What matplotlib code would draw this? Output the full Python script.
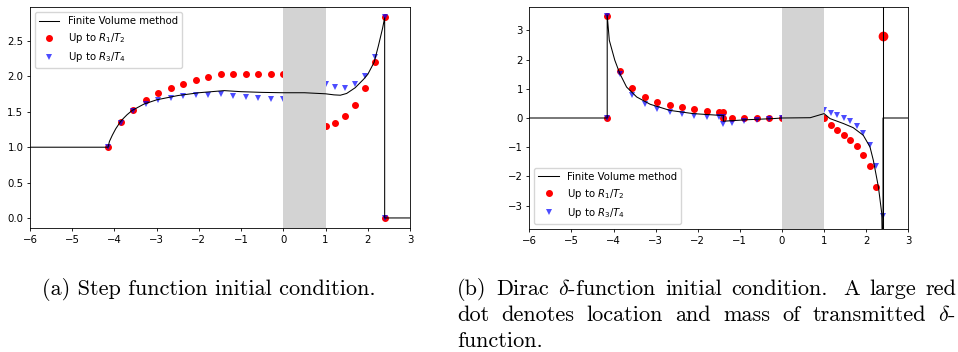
import matplotlib
matplotlib.use('Agg')
import matplotlib.pyplot as plt

W, H = 958, 352

# --- (a) step function initial condition ---
fv_step_x = [-6.0, -4.15, -4.12, -4.05, -3.97, -3.87, -3.8, -3.7, -3.58, -3.3, -3.0, -2.5,
             -2.0, -1.5, -1.4, -1.0, -0.5, 0.0, 0.5, 1.0, 1.2, 1.35, 1.5, 1.7, 1.9, 2.0,
             2.15, 2.25, 2.35, 2.4, 2.4, 3.0]
fv_step_y = [1.0, 1.0, 1.08, 1.17, 1.26, 1.35, 1.40, 1.46, 1.52, 1.61, 1.67, 1.73,
             1.77, 1.795, 1.80, 1.785, 1.775, 1.77, 1.77, 1.755, 1.74, 1.735, 1.76, 1.84, 1.96,
             2.03, 2.2, 2.43, 2.68, 2.83, 0.0, 0.0]

step_pts_x = [-4.15, -3.85, -3.55, -3.26, -2.96, -2.67, -2.37, -2.08, -1.78, -1.48,
              -1.19, -0.89, -0.59, -0.30, 0.0, 1.0, 1.23, 1.47, 1.70, 1.93, 2.17, 2.40, 2.40]
r1_step_y = [1.0, 1.35, 1.53, 1.665, 1.76, 1.84, 1.90, 1.95, 1.99, 2.03,
             2.04, 2.04, 2.04, 2.04, 2.04, 1.30, 1.34, 1.445, 1.60, 1.84, 2.20, 2.84, 0.0]
r3_step_y = [1.0, 1.34, 1.51, 1.61, 1.665, 1.69, 1.717, 1.735, 1.745, 1.75,
             1.726, 1.708, 1.69, 1.68, 1.68, 1.90, 1.85, 1.84, 1.90, 2.01, 2.27, 2.84, 0.0]

# --- (b) Dirac delta initial condition ---
fv_delta_x = [-6.0, -4.15, -4.15, -4.1, -3.97, -3.85, -3.69, -3.45, -3.13, -2.66, -2.11,
              -1.47, -1.39, -1.39, -0.84, -0.2, 0.0, 0.67, 1.0, 1.14, 1.46, 1.69, 1.93,
              2.09, 2.17, 2.29, 2.37, 2.4, 2.4, 3.0]
fv_delta_y = [0.0, 0.0, 3.52, 2.66, 1.98, 1.52, 1.06, 0.72, 0.47, 0.26, 0.15,
              0.09, 0.09, -0.11, -0.06, -0.02, 0.0, 0.01, 0.15, -0.02, -0.19, -0.33, -0.59,
              -0.99, -1.45, -2.36, -3.27, -6.0, 0.0, 0.0]

r1_delta_x = [-4.15, -4.15, -3.85, -3.56, -3.26, -2.97, -2.67, -2.37, -2.08, -1.78, -1.49,
              -1.39, -1.39, -1.19, -0.89, -0.60, -0.30, 0.0, 1.0, 1.156, 1.311, 1.467,
              1.622, 1.778, 1.933, 2.089, 2.244]
r1_delta_y = [0.0, 3.49, 1.61, 1.02, 0.73, 0.56, 0.45, 0.36, 0.30, 0.25, 0.22,
              0.22, 0.0, 0.0, 0.0, 0.0, 0.0, 0.0, 0.0, -0.25, -0.42, -0.58,
              -0.76, -0.97, -1.25, -1.65, -2.35]
r3_delta_x = r1_delta_x + [2.4]
r3_delta_y = [0.0, 3.49, 1.52, 0.80, 0.49, 0.32, 0.21, 0.13, 0.08, 0.05, 0.03,
              0.02, -0.22, -0.17, -0.10, -0.06, -0.03, 0.0, 0.29, 0.17, 0.09, 0.0,
              -0.11, -0.28, -0.51, -0.93, -1.65, -3.36]

# transmitted delta: location and mass
delta_x = 2.4
delta_mass = 2.81

caption_a = "(a) Step function initial condition."
caption_b = [
    ["(b)", "Dirac", r"$\delta$-function", "initial", "condition.", "A", "large", "red"],
    ["dot", "denotes", "location", "and", "mass", "of", "transmitted", r"$\delta$-"],
    ["function."],
]

FS = 7.3
LW = 0.75
MS = 4.0

plt.rcParams['font.size'] = FS
plt.rcParams['axes.linewidth'] = 0.6

fig = plt.figure(figsize=(W / 100, H / 100), dpi=100)


def add_panel(rect):
    ax = fig.add_axes(rect)
    ax.tick_params(length=2.5, width=0.6, labelsize=FS, pad=2.2)
    ax.axvspan(0, 1, color='lightgray', lw=0, zorder=1.5)
    return ax


# left panel
ax1 = add_panel([30 / W, 1 - 228 / H, 380 / W, 221 / H])
ax1.plot(step_pts_x, r1_step_y, 'o', color='red', ms=MS, lw=0, zorder=1, label='Up to $R_1/T_2$')
ax1.plot(step_pts_x, r3_step_y, 'v', color='b', alpha=0.7, ms=MS, mew=0, zorder=1.1,
         label='Up to $R_3/T_4$')
ax1.plot(fv_step_x, fv_step_y, color='black', lw=LW, zorder=2, label='Finite Volume method')
ax1.set_xlim(-6, 3)
h, l = ax1.get_legend_handles_labels()
ax1.legend([h[2], h[0], h[1]], [l[2], l[0], l[1]], loc='upper left', fontsize=FS)

# right panel
ax2 = add_panel([529.3 / W, 1 - 229 / H, 379 / W, 222 / H])
ax2.plot(r1_delta_x, r1_delta_y, 'o', color='red', ms=MS, lw=0, zorder=1, label='Up to $R_1/T_2$')
ax2.plot(r3_delta_x, r3_delta_y, 'v', color='b', alpha=0.7, ms=MS, mew=0, zorder=1.1,
         label='Up to $R_3/T_4$')
ax2.plot([delta_x], [delta_mass], 'o', color='red', ms=6.0, zorder=1.8)
ax2.plot(fv_delta_x, fv_delta_y, color='black', lw=LW, zorder=2, label='Finite Volume method')
ax2.axvline(delta_x, color='black', lw=LW, zorder=2)
ax2.set_xlim(-6, 3)
ax2.set_ylim(-3.8, 3.8)
h, l = ax2.get_legend_handles_labels()
ax2.legend([h[2], h[0], h[1]], [l[2], l[0], l[1]], loc='lower left', fontsize=FS)

# captions in a TeX-like serif
cap_kw = dict(fontfamily='cmr10', math_fontfamily='cm', fontsize=16, va='baseline', ha='left')
fig.text(42 / W, 1 - 295 / H, caption_a, **cap_kw)

renderer = fig.canvas.get_renderer()


def justified_line(words, x0, x1, base, justify=True):
    texts = [fig.text(0, 1 - base / H, w, **cap_kw) for w in words]
    widths = [t.get_window_extent(renderer).width for t in texts]
    # TeX puts a wider space after a sentence-ending period
    weights = [1.6 if w.endswith('.') else 1.0 for w in words[:-1]]
    if justify and len(words) > 1:
        unit = (x1 - x0 - sum(widths)) / sum(weights)
    else:
        unit = 7.3
    x = x0
    for k, (t, wd) in enumerate(zip(texts, widths)):
        t.set_x(x / W)
        if k < len(weights):
            x += wd + unit * weights[k]


for i, words in enumerate(caption_b):
    justified_line(words, 457, 956, 295 + 26 * i, justify=(i < len(caption_b) - 1))

fig.savefig('out.png', dpi=100)
